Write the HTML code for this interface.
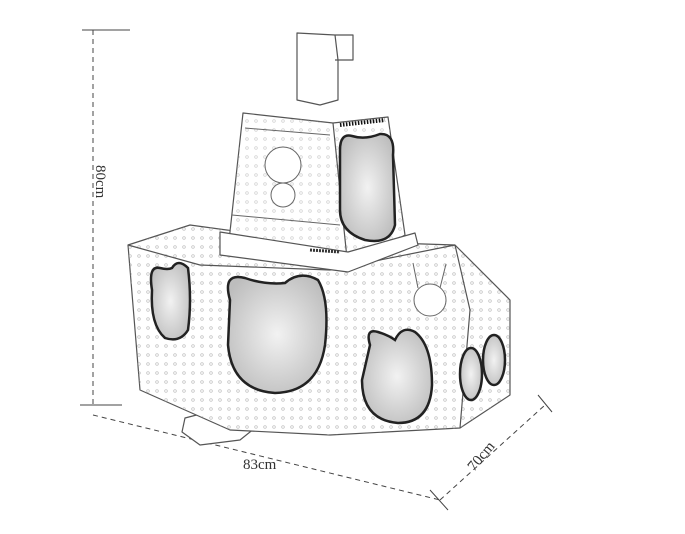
<!DOCTYPE html>
<html><head><style>body{margin:0;background:#fff}svg{display:block}</style></head><body>
<svg width="685" height="534" viewBox="0 0 685 534" xmlns="http://www.w3.org/2000/svg" font-family="Liberation Serif, serif">
<defs>
<radialGradient id="g" cx="0.5" cy="0.5" r="0.6"><stop offset="0" stop-color="#f2f2f2"/><stop offset="1" stop-color="#bdbdbd"/></radialGradient>
<pattern id="dots" width="9" height="9" patternUnits="userSpaceOnUse"><circle cx="4" cy="4" r="1.3" fill="none" stroke="#aaa" stroke-width="0.7"/></pattern>
</defs>
<g stroke="#444" stroke-width="1" fill="none">
<line x1="82" y1="30" x2="130" y2="30"/>
<line x1="93" y1="30" x2="93" y2="405" stroke-dasharray="5,4"/>
<line x1="80" y1="405" x2="122" y2="405"/>
<line x1="93" y1="415" x2="440" y2="500" stroke-dasharray="5,4"/>
<line x1="430" y1="490" x2="448" y2="510"/>
<line x1="440" y1="500" x2="545" y2="405" stroke-dasharray="5,4"/>
<line x1="538" y1="395" x2="552" y2="412"/>
</g>
<text x="0" y="0" font-size="15" fill="#333" transform="translate(96,165) rotate(90)">80cm</text>
<text x="243" y="469" font-size="15" fill="#333">83cm</text>
<text x="0" y="0" font-size="15" fill="#333" transform="translate(474,472) rotate(-50)">70cm</text>
<g stroke="#555" stroke-width="1.2" fill="#fff" stroke-linejoin="round">
<polygon points="185,418 235,405 265,420 240,440 200,445 182,432"/>
<polygon points="128,245 190,225 300,240 455,245 510,300 510,395 460,428 330,435 230,430 140,390"/>
</g>
<polygon points="128,245 190,225 300,240 455,245 510,300 510,395 460,428 330,435 230,430 140,390" fill="url(#dots)" opacity="0.8"/>
<g stroke="#555" stroke-width="1.2" fill="#fff" stroke-linejoin="round">
<polyline points="128,245 200,265 330,270 455,245" fill="none"/>
<polyline points="455,245 470,310 460,428" fill="none"/>
<polygon points="243,113 333,123 388,117 405,235 348,268 228,250"/>
</g>
<polygon points="243,113 333,123 388,117 405,235 348,268 228,250" fill="url(#dots)" opacity="0.6"/>
<g stroke="#555" stroke-width="1.2" fill="#fff" stroke-linejoin="round">
<polyline points="333,123 348,268" fill="none"/>
<polygon points="220,232 348,252 415,233 418,245 348,272 220,255"/>
<polygon points="297,33 335,35 353,35 353,60 338,60 338,100 320,105 297,100"/>
<polyline points="335,35 338,60 335,60" fill="none"/>
</g>
<g stroke="#222" stroke-width="2.5" fill="url(#g)">
<path d="M340,150 Q340,133 352,136 Q365,140 380,134 Q395,133 393,155 L395,225 Q390,245 365,240 Q340,232 340,210 Z"/>
<path d="M230,300 Q222,272 245,278 Q265,285 285,283 Q300,270 318,280 Q330,300 325,345 Q318,392 275,393 Q232,390 228,345 Z"/>
<path d="M152,290 Q148,265 160,268 Q168,270 172,268 Q178,258 188,268 Q192,300 188,330 Q180,343 165,338 Q150,325 152,290 Z"/>
<path d="M370,345 Q365,328 378,332 Q388,335 395,340 Q402,325 415,332 Q432,345 432,385 Q430,423 398,423 Q362,420 362,380 Z"/>
<ellipse cx="471" cy="374" rx="11" ry="26"/>
<ellipse cx="494" cy="360" rx="11" ry="25"/>
</g>
<g fill="#fff" stroke="#666" stroke-width="1">
<circle cx="283" cy="165" r="18"/><circle cx="283" cy="195" r="12"/>
<circle cx="430" cy="300" r="16"/><path d="M418,288 l-5,-25 M440,288 l6,-24" fill="none"/>
<line x1="245" y1="128" x2="330" y2="135"/><line x1="232" y1="215" x2="340" y2="225"/>
<line x1="340" y1="125" x2="385" y2="120" stroke="#111" stroke-width="4" stroke-dasharray="1.5,1.5"/>
<line x1="310" y1="250" x2="340" y2="252" stroke="#333" stroke-width="3" stroke-dasharray="2,1"/>
</g>
</svg>
</body></html>
